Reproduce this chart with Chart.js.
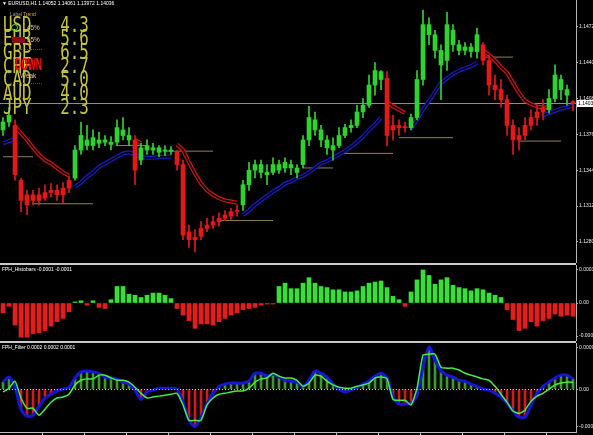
<!DOCTYPE html>
<html>
<head>
<meta charset="utf-8">
<title>EURUSD,H1</title>
<script src="https://cdn.jsdelivr.net/npm/chart.js@4.4.1/dist/chart.umd.min.js"></script>
<style>
  body { margin: 0; background: #000; }
  #wrap { position: relative; width: 593px; height: 435px; overflow: hidden; background: #000; }
  .pane { position: absolute; left: 0; width: 593px; }
  .sep { position: absolute; left: 0; width: 576px; height: 2px; background: #c8c8c8; }
  .small { position: absolute; white-space: pre; font: 8px "Liberation Sans", sans-serif; line-height: 8px; transform: scale(0.62); transform-origin: 0 0; color: #fff; }
  .cur { position: absolute; left: 3px; white-space: pre; font: 16px "DejaVu Sans Mono", monospace; letter-spacing: 0.0px; line-height: 16px; color: #c4c43e; transform: scale(0.99, 1.3); transform-origin: 0 0; }
  .tag { position: absolute; white-space: pre; font: 8px "Liberation Sans", sans-serif; line-height: 8px; transform: scale(0.8); transform-origin: 0 0; color: #e0c890; }
  .dots { position: absolute; left: 13px; width: 29px; border-top: 1px dotted #c82020; }
  #down { position: absolute; left: 15px; top: 55px; font: bold 12px "Liberation Sans", sans-serif; line-height: 12px; color: #ff1010; transform: scale(0.71, 1.45); transform-origin: 0 0; }
</style>
</head>
<body>
<div id="wrap">
  <div class="pane" style="top:0;height:263px"><canvas id="main"></canvas></div>
  <div class="sep" style="top:263px"></div>
  <div class="pane" style="top:265px;height:76px"><canvas id="hist"></canvas></div>
  <div class="sep" style="top:341px"></div>
  <div class="pane" style="top:343px;height:92px"><canvas id="filt"></canvas></div>

  <div class="small" id="hdr" style="left:2px;top:1px"></div>
  <div class="small" style="left:2px;top:267px">FPH_Histobars -0.0001 -0.0001</div>
  <div class="small" style="left:2px;top:345px">FPH_Filter 0.0002 0.0002 0.0001</div>
  <div class="small" style="left:10px;top:12px;color:#9c9c9c">Label</div>
  <div class="small" style="left:23px;top:12px;color:#d8a848">Trend</div>
  <div id="rows"></div>
  <div style="position:absolute;left:11px;top:24px;width:5px;height:5px;border:1px solid #3cf03c;border-radius:50%"></div>
  <div class="tag" style="left:27px;top:25px">45%</div>
  <div style="position:absolute;left:12px;top:37px;width:13px;height:6px;background:#8a1010"></div>
  <div class="tag" style="left:27px;top:37px">55%</div>
  <div class="dots" style="top:49px"></div>
  <div id="down">DOWN</div>
  <div class="tag" style="left:20px;top:73px">Weak</div>
  <div class="dots" style="top:83px"></div>
</div>

<script>
// EURUSD H1 bars
const open = [1.1380, 1.1387, 1.1384, 1.1335, 1.1322, 1.1317, 1.1322, 1.1319, 1.1324, 1.1326,
  1.1322, 1.1328, 1.1337, 1.1362, 1.1371, 1.1366, 1.1371, 1.1369, 1.1369, 1.1369,
  1.1380, 1.1375, 1.1371, 1.1353, 1.1362, 1.1364, 1.1360, 1.1362, 1.1361, 1.1360,
  1.1349, 1.1289, 1.1282, 1.1285, 1.1292, 1.1295, 1.1298, 1.1301, 1.1303, 1.1307,
  1.1313, 1.1331, 1.1344, 1.1349, 1.1342, 1.1342, 1.1349, 1.1346, 1.1349, 1.1346,
  1.1349, 1.1371, 1.1389, 1.1380, 1.1371, 1.1362, 1.1366, 1.1375, 1.1382, 1.1384,
  1.1396, 1.1402, 1.1420, 1.1432, 1.1426, 1.1380, 1.1384, 1.1382, 1.1382, 1.1391,
  1.1425, 1.1474, 1.1465, 1.1451, 1.1442, 1.1469, 1.1456, 1.1451, 1.1454, 1.1450,
  1.1456, 1.1442, 1.1420, 1.1416, 1.1407, 1.1384, 1.1371, 1.1375, 1.1384, 1.1391,
  1.1396, 1.1398, 1.1408, 1.1425, 1.1416, 1.14052];
const high = [1.1391, 1.1400, 1.1389, 1.1337, 1.1326, 1.1326, 1.1328, 1.1331, 1.1332, 1.1331,
  1.1333, 1.1339, 1.1366, 1.1387, 1.1384, 1.1380, 1.1378, 1.1375, 1.1374, 1.1389,
  1.1391, 1.1382, 1.1375, 1.1368, 1.1371, 1.1368, 1.1366, 1.1366, 1.1365, 1.1362,
  1.1353, 1.1295, 1.1291, 1.1298, 1.1301, 1.1303, 1.1306, 1.1308, 1.1310, 1.1313,
  1.1335, 1.1351, 1.1353, 1.1353, 1.1349, 1.1355, 1.1353, 1.1355, 1.1353, 1.1349,
  1.1375, 1.1401, 1.1396, 1.1384, 1.1375, 1.1373, 1.1382, 1.1385, 1.1389, 1.1402,
  1.1408, 1.1429, 1.1440, 1.1433, 1.1432, 1.1393, 1.1389, 1.1387, 1.1394, 1.1433,
  1.1487, 1.1480, 1.1469, 1.1456, 1.1485, 1.1474, 1.1460, 1.1458, 1.1457, 1.1471,
  1.1458, 1.1447, 1.1429, 1.1425, 1.1411, 1.1389, 1.1382, 1.1391, 1.1398, 1.1402,
  1.1407, 1.1416, 1.1438, 1.1429, 1.1420, 1.14061];
const low = [1.1375, 1.1383, 1.1335, 1.1307, 1.1304, 1.1313, 1.1313, 1.1317, 1.1320, 1.1317,
  1.1315, 1.1324, 1.1335, 1.1358, 1.1362, 1.1362, 1.1364, 1.1366, 1.1362, 1.1366,
  1.1371, 1.1366, 1.1331, 1.1349, 1.1358, 1.1358, 1.1356, 1.1357, 1.1358, 1.1344,
  1.1282, 1.1275, 1.1271, 1.1282, 1.1289, 1.1292, 1.1294, 1.1299, 1.1300, 1.1303,
  1.1308, 1.1326, 1.1337, 1.1337, 1.1331, 1.1340, 1.1341, 1.1342, 1.1340, 1.1337,
  1.1346, 1.1366, 1.1375, 1.1365, 1.1358, 1.1353, 1.1364, 1.1373, 1.1378, 1.1382,
  1.1391, 1.1400, 1.1411, 1.1416, 1.1366, 1.1371, 1.1375, 1.1378, 1.1380, 1.1389,
  1.1420, 1.1456, 1.1444, 1.1407, 1.1433, 1.1450, 1.1447, 1.1447, 1.1445, 1.1444,
  1.1438, 1.1411, 1.1407, 1.1400, 1.1375, 1.1358, 1.1362, 1.1371, 1.1380, 1.1384,
  1.1389, 1.1395, 1.1405, 1.1407, 1.1402, 1.13972];
const close = [1.1387, 1.1393, 1.1340, 1.1317, 1.1313, 1.1322, 1.1317, 1.1324, 1.1326, 1.1322,
  1.1328, 1.1335, 1.1362, 1.1375, 1.1366, 1.1373, 1.1368, 1.1371, 1.1367, 1.1382,
  1.1375, 1.1371, 1.1344, 1.1364, 1.1366, 1.1362, 1.1364, 1.1361, 1.1362, 1.1349,
  1.1286, 1.1282, 1.1284, 1.1292, 1.1295, 1.1298, 1.1301, 1.1304, 1.1307, 1.1308,
  1.1331, 1.1344, 1.1349, 1.1342, 1.1340, 1.1349, 1.1344, 1.1351, 1.1346, 1.1342,
  1.1371, 1.1391, 1.1380, 1.1371, 1.1364, 1.1366, 1.1375, 1.1382, 1.1384, 1.1396,
  1.1402, 1.1420, 1.1433, 1.1425, 1.1375, 1.1384, 1.1382, 1.1383, 1.1391, 1.1425,
  1.1474, 1.1465, 1.1451, 1.1438, 1.1474, 1.1456, 1.1451, 1.1454, 1.1450, 1.1465,
  1.1442, 1.1420, 1.1416, 1.1407, 1.1384, 1.1371, 1.1375, 1.1384, 1.1391, 1.1396,
  1.1400, 1.1408, 1.1429, 1.1416, 1.1411, 1.14036];

// bars drawn red (down trend), all others green
const downRanges = [[2, 11], [22, 22], [29, 39], [64, 67], [80, 90], [95, 95]];

// trend lines (null where the indicator is off)
const blueMa = [1.1368, 1.1370, 1.1372, null, null, null, null, null, null, null,
  null, null, 1.1329, 1.1333, 1.1338, 1.1342, 1.1347, 1.1350, 1.1353, 1.1356,
  1.1359, 1.1360, 1.1358, 1.1356, 1.1355, 1.1355, 1.1356, 1.1356, 1.1356, null,
  null, null, null, null, null, null, null, null, null, null,
  1.1304, 1.1308, 1.1313, 1.1317, 1.1321, 1.1325, 1.1328, 1.1332, 1.1334, 1.1337,
  1.1339, 1.1342, 1.1346, 1.1350, 1.1352, 1.1355, 1.1358, 1.1361, 1.1365, 1.1369,
  1.1374, 1.1380, 1.1385, 1.1391, null, null, null, null, 1.1381, 1.1389,
  1.1398, 1.1406, 1.1414, 1.1422, 1.1426, 1.1430, 1.1433, 1.1435, 1.1437, 1.1440,
  null, null, null, null, null, null, null, null, null, null,
  1.1393, 1.1395, 1.1397, 1.1399, 1.1400, 1.1402];
const redMa = [null, null, 1.1383, 1.1377, 1.1371, 1.1364, 1.1358, 1.1353, 1.1350, 1.1346,
  1.1342, 1.1339, null, null, null, null, null, null, null, null,
  null, null, 1.1371, 1.1368, null, null, null, null, null, 1.1367,
  1.1362, 1.1351, 1.1341, 1.1332, 1.1326, 1.1322, 1.1319, 1.1317, 1.1316, 1.1315,
  null, null, null, null, null, null, null, null, null, null,
  null, null, null, null, null, null, null, null, null, null,
  null, null, null, null, 1.1405, 1.1401, 1.1398, 1.1395, null, null,
  null, null, null, null, null, null, null, null, null, null,
  1.1451, 1.1447, 1.1442, 1.1436, 1.1431, 1.1422, 1.1413, 1.1406, 1.1403, 1.1401,
  1.1400, 1.1400, null, null, null, null];

// support / resistance: [first bar, last bar, price]
const levels = [[0, 5, 1.1356], [5, 15, 1.1314], [19, 24, 1.1366], [27, 35, 1.1361],
  [36, 45, 1.1299], [50, 55, 1.1346], [56, 65, 1.1359], [66, 75, 1.1373],
  [80, 85, 1.1445], [86, 93, 1.1370]];

const histobars = [-0.00009, -0.00003, -0.00020, -0.00031, -0.00031, -0.00028, -0.00027, -0.00025, -0.00021, -0.00017,
  -0.00014, -0.00008, 0.00001, 0.00002, -0.00002, 0.00002, -0.00004, -0.00005, 0.00003, 0.00015,
  0.00015, 0.00008, 0.00007, 0.00005, 0.00007, 0.00009, 0.00009, 0.00007, 0.00004, -0.00005,
  -0.00011, -0.00016, -0.00023, -0.00019, -0.00019, -0.00020, -0.00017, -0.00014, -0.00011, -0.00009,
  -0.00006, -0.00005, -0.00004, -0.00002, -0.00001, -0.00001, 0.00015, 0.00018, 0.00013, 0.00013,
  0.00018, 0.00023, 0.00018, 0.00015, 0.00014, 0.00012, 0.00012, 0.00010, 0.00010, 0.00011,
  0.00015, 0.00018, 0.00019, 0.00020, 0.00014, 0.00006, 0.00003, -0.00003, 0.00010, 0.00021,
  0.00030, 0.00025, 0.00017, 0.00021, 0.00023, 0.00016, 0.00014, 0.00013, 0.00011, 0.00013,
  0.00012, 0.00009, 0.00007, 0.00005, -0.00006, -0.00015, -0.00025, -0.00023, -0.00017, -0.00021,
  -0.00016, -0.00014, -0.00010, -0.00012, -0.00011, -0.00012];

const filterHist = [0.00015, 0.00026, 0.00004, -0.00043, -0.00058, -0.00056, -0.00037, -0.00019, -0.00011, -0.00004,
  0.00000, 0.00004, 0.00024, 0.00037, 0.00039, 0.00037, 0.00034, 0.00026, 0.00024, 0.00022,
  0.00015, 0.00011, -0.00002, -0.00022, -0.00006, -0.00002, 0.00002, 0.00002, 0.00002, 0.00000,
  -0.00028, -0.00067, -0.00080, -0.00060, -0.00032, -0.00009, 0.00006, 0.00011, 0.00013, 0.00013,
  0.00013, 0.00017, 0.00034, 0.00034, 0.00028, 0.00032, 0.00026, 0.00019, 0.00017, 0.00015,
  0.00006, 0.00019, 0.00039, 0.00034, 0.00026, 0.00011, 0.00000, -0.00006, -0.00002, 0.00004,
  0.00011, 0.00017, 0.00028, 0.00034, 0.00024, -0.00017, -0.00032, -0.00032, -0.00030, -0.00013,
  0.00047, 0.00090, 0.00062, 0.00039, 0.00030, 0.00026, 0.00019, 0.00017, 0.00011, 0.00006,
  0.00000, -0.00002, -0.00009, -0.00017, -0.00030, -0.00047, -0.00060, -0.00060, -0.00034, -0.00009,
  0.00006, 0.00015, 0.00024, 0.00030, 0.00030, 0.00022];
const filterSignal = [-0.00006, 0.00002, 0.00017, -0.00019, -0.00041, -0.00041, -0.00056, -0.00043, -0.00028, -0.00019,
  -0.00017, -0.00011, 0.00009, 0.00019, 0.00022, 0.00022, 0.00030, 0.00030, 0.00024, 0.00019,
  0.00019, 0.00015, 0.00004, -0.00009, -0.00019, -0.00017, -0.00015, -0.00013, -0.00011, -0.00009,
  -0.00034, -0.00067, -0.00067, -0.00067, -0.00034, -0.00019, -0.00011, -0.00009, -0.00006, -0.00004,
  -0.00004, 0.00002, 0.00015, 0.00022, 0.00024, 0.00034, 0.00028, 0.00024, 0.00024, 0.00019,
  0.00006, 0.00013, 0.00030, 0.00028, 0.00017, 0.00009, 0.00004, 0.00002, 0.00002, 0.00006,
  0.00009, 0.00013, 0.00024, 0.00026, 0.00022, -0.00022, -0.00024, -0.00024, -0.00034, 0.00002,
  0.00073, 0.00075, 0.00075, 0.00047, 0.00045, 0.00045, 0.00041, 0.00034, 0.00030, 0.00026,
  0.00022, 0.00019, 0.00006, -0.00011, -0.00028, -0.00047, -0.00052, -0.00045, -0.00026, -0.00015,
  -0.00009, 0.00000, 0.00009, 0.00013, 0.00015, 0.00015];

const priceTicks = [1.1280, 1.1312, 1.1344, 1.1376, 1.1408, 1.1440, 1.1472];
const histoTicks = [0.0003, 0, -0.0003];
const histoTickLabels = ['0.0003', '0.00', '-0.0003'];
const filterTicks = [0.0009, 0, -0.0008];
const filterTickLabels = ['0.0009', '0.00', '-0.0008'];

const currencies = ['USD', 'EUR', 'GBP', 'CHF', 'CAD', 'AUD', 'JPY'];
const strength = [4.3, 5.6, 6.5, 2.7, 5.0, 4.0, 2.3];

const bars = close.map((_, i) => i);
const green = '#2ed42e';
const red = '#e41818';

// header + currency strength table
const last = close.length - 1;
document.getElementById('hdr').textContent = '\u25BC EURUSD,H1 ' +
  [open[last], high[last], low[last], close[last]].map(v => v.toFixed(5)).join(' ');
const rows = document.getElementById('rows');
currencies.forEach((c, i) => {
  const d = document.createElement('div');
  d.className = 'cur';
  d.style.top = (14.5 + i * 13.7) + 'px';
  d.textContent = c + '   ' + strength[i].toFixed(1);
  rows.appendChild(d);
});

const isDown = i => downRanges.some(([a, b]) => i >= a && i <= b);
const candleColor = bars.map(i => isDown(i) ? red : green);

function rightAxis(min, max, ticks, fmt) {
  return {
    position: 'right',
    min: min,
    max: max,
    afterBuildTicks: s => { s.ticks = ticks.map(v => ({ value: v })); },
    afterFit: s => { s.width = 17; s.paddingTop = 0; s.paddingBottom = 0; },
    grid: { drawOnChartArea: false, color: '#b4b4b4', tickLength: 2 },
    border: { color: '#b4b4b4' },
    ticks: { color: '#e8e8e8', font: { size: 5, family: 'Liberation Sans' }, padding: 1, autoSkip: false, callback: fmt }
  };
}

const baseOptions = {
  responsive: true,
  maintainAspectRatio: false,
  animation: false,
  events: [],
  layout: { padding: 0 },
  plugins: { legend: { display: false }, tooltip: { enabled: false } }
};

// grey bid line + price box on the axis
const lastClose = close[last];
const priceLine = {
  id: 'priceLine',
  beforeDatasetsDraw(chart) {
    const { ctx, chartArea, scales } = chart;
    const y = Math.round(scales.y.getPixelForValue(lastClose)) + 0.5;
    ctx.save();
    ctx.strokeStyle = '#8c8c8c';
    ctx.lineWidth = 1;
    ctx.beginPath();
    ctx.moveTo(chartArea.left, y);
    ctx.lineTo(chartArea.right, y);
    ctx.stroke();
    ctx.restore();
  },
  afterDraw(chart) {
    const { ctx, chartArea, scales } = chart;
    const y = Math.round(scales.y.getPixelForValue(lastClose));
    ctx.save();
    ctx.fillStyle = '#fff';
    ctx.fillRect(chartArea.right + 1, y - 3, 17, 7);
    ctx.fillStyle = '#000';
    ctx.font = '5px "Liberation Sans"';
    ctx.textBaseline = 'middle';
    ctx.fillText(lastClose.toFixed(5), chartArea.right + 2, y + 0.5);
    ctx.restore();
  }
};

const levelSets = levels.map(([a, b, p]) => ({
  type: 'line',
  data: bars.map(i => (i >= a && i <= b ? p : null)),
  borderColor: '#8f8257',
  borderWidth: 1,
  pointRadius: 0,
  order: 7
}));

function doubleLine(values, color) {
  return [
    { type: 'line', data: values, borderColor: color, borderWidth: 4, pointRadius: 0, order: 6 },
    { type: 'line', data: values, borderColor: '#000', borderWidth: 1.6, pointRadius: 0, order: 5 }
  ];
}

new Chart(document.getElementById('main'), {
  type: 'bar',
  data: {
    labels: bars,
    datasets: [
      ...levelSets,
      ...doubleLine(blueMa, '#1a1ad0'),
      ...doubleLine(redMa, '#d81212'),
      {
        label: 'wick',
        data: bars.map(i => [low[i], high[i]]),
        backgroundColor: candleColor,
        barThickness: 1,
        grouped: false,
        order: 2
      },
      {
        label: 'body',
        data: bars.map(i => [open[i], close[i]]),
        backgroundColor: candleColor,
        barThickness: 4,
        minBarLength: 1,
        grouped: false,
        order: 1
      }
    ]
  },
  options: {
    ...baseOptions,
    scales: {
      x: { display: false, offset: true },
      y: rightAxis(1.12611, 1.14960, priceTicks, v => v.toFixed(4))
    }
  },
  plugins: [priceLine]
});

new Chart(document.getElementById('hist'), {
  type: 'bar',
  data: {
    labels: bars,
    datasets: [{
      data: histobars,
      backgroundColor: histobars.map(v => (v >= 0 ? '#36e036' : '#e41c1c')),
      barThickness: 4
    }]
  },
  options: {
    ...baseOptions,
    scales: {
      x: { display: false, offset: true },
      y: rightAxis(-0.000345, 0.000345, histoTicks, (v, i) => histoTickLabels[i])
    }
  }
});

const zeroDots = {
  id: 'zeroDots',
  afterDatasetsDraw(chart) {
    const { ctx, chartArea, scales } = chart;
    const y = Math.round(scales.y.getPixelForValue(0)) + 0.5;
    ctx.save();
    ctx.strokeStyle = '#d8d020';
    ctx.setLineDash([1, 2]);
    ctx.beginPath();
    ctx.moveTo(chartArea.left, y);
    ctx.lineTo(chartArea.right, y);
    ctx.stroke();
    ctx.restore();
  }
};

new Chart(document.getElementById('filt'), {
  type: 'bar',
  data: {
    labels: bars,
    datasets: [
      {
        type: 'line',
        data: filterSignal,
        borderColor: '#44ee44',
        borderWidth: 1.5,
        pointRadius: 0,
        tension: 0.2,
        order: 1
      },
      {
        type: 'line',
        data: filterHist,
        borderColor: '#1616d8',
        borderWidth: 3,
        pointRadius: 0,
        tension: 0.3,
        order: 2
      },
      {
        data: filterHist,
        backgroundColor: filterHist.map(v => (v >= 0 ? '#3c9a2a' : '#d41a1a')),
        barThickness: 2,
        order: 3
      }
    ]
  },
  options: {
    ...baseOptions,
    scales: {
      x: {
        offset: true,
        grid: {
          offset: true,
          drawOnChartArea: false,
          tickLength: 3,
          color: c => (c.index > 0 && c.index % 7 === 0 ? '#bdbdbd' : 'rgba(0,0,0,0)')
        },
        border: { color: '#bdbdbd' },
        ticks: { display: false }
      },
      y: rightAxis(-0.00092, 0.00099, filterTicks, (v, i) => filterTickLabels[i])
    }
  },
  plugins: [zeroDots]
});
</script>
</body>
</html>
